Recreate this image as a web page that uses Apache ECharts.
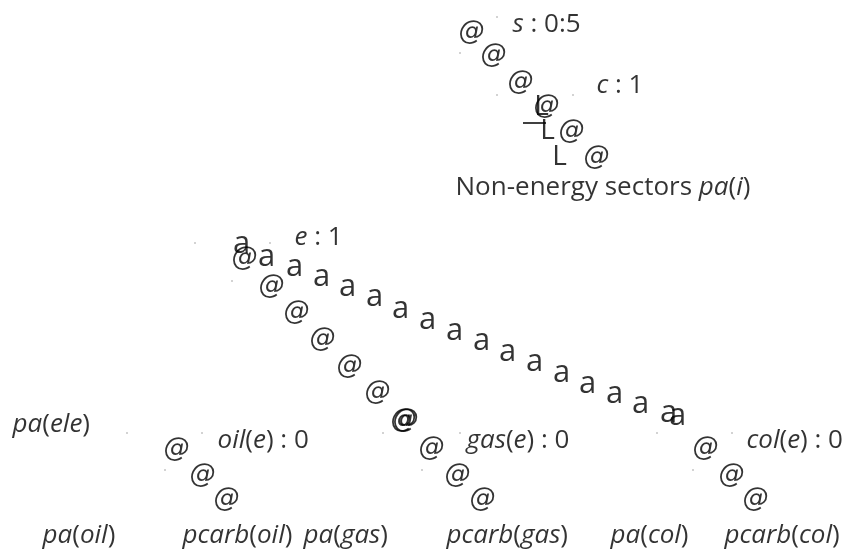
<!DOCTYPE html>
<html>
<head>
<meta charset="utf-8">
<script src="https://cdn.jsdelivr.net/npm/echarts@6/dist/echarts.min.js"></script>
<style>
  html, body { margin: 0; padding: 0; background: #fff; }
  #main { width: 853px; height: 557px; }
</style>
</head>
<body>
<div id="main"></div>
<script>
// glyph anchors, picture units (x right, y down)
var atMarks = [
  [472, 33], [494, 56], [521, 83], [547, 107], [572, 132], [597, 158],
  [245, 259], [272, 287], [297, 313], [323, 340], [350, 367], [378, 393],
  [404, 421], [406, 421], [432, 449], [458, 476], [483, 500],
  [177, 450], [203, 476], [227, 500],
  [706, 449], [732, 476], [756, 500]
];
var aMarks = [
  [242, 245], [267, 258], [295, 268], [322, 278], [348, 288], [375, 298],
  [401, 310], [428, 321], [455, 332], [482, 342], [508, 353], [535, 363],
  [562, 374], [588, 385], [615, 395], [641, 405], [669, 414], [678, 417]
];
var lMarks = [[542, 108], [548, 132], [560, 158]];
var ruleLine = [[523, 123], [546, 123]];
var dots = [
  [497, 17], [460, 53], [497, 95], [573, 95], [195, 243], [270, 243],
  [232, 281], [127, 433], [202, 433], [165, 470], [383, 433], [460, 433],
  [422, 470], [657, 433], [732, 433], [693, 470]
];
// [left x, y, text]
var texts = [
  [513, 25, '{m|s}{r| : 0:5}'],
  [597, 86, '{m|c}{r| : 1}'],
  [456, 188, '{r|Non-energy sectors }{m|pa}{r|(}{m|i}{r|)}'],
  [295, 238, '{m|e}{r| : 1}'],
  [13, 425, '{m|pa}{r|(}{m|ele}{r|)}'],
  [218, 441, '{m|oil}{r|(}{m|e}{r|) : 0}'],
  [467, 441, '{m|gas}{r|(}{m|e}{r|) : 0}'],
  [747, 441, '{m|col}{r|(}{m|e}{r|) : 0}'],
  [43, 536, '{m|pa}{r|(}{m|oil}{r|)}'],
  [183, 536, '{m|pcarb}{r|(}{m|oil}{r|)}'],
  [304, 536, '{m|pa}{r|(}{m|gas}{r|)}'],
  [447, 536, '{m|pcarb}{r|(}{m|gas}{r|)}'],
  [611, 536, '{m|pa}{r|(}{m|col}{r|)}'],
  [725, 536, '{m|pcarb}{r|(}{m|col}{r|)}']
];

var chart = echarts.init(document.getElementById('main'), null, { renderer: 'canvas' });
var font = '"Open Sans", "DejaVu Sans", sans-serif';

function glyphSeries(data, ch, size, style, family) {
  return {
    type: 'scatter',
    data: data,
    symbolSize: 1,
    itemStyle: { color: 'rgba(0,0,0,0)' },
    silent: true,
    label: {
      show: true,
      position: [0, 0],
      align: 'center',
      verticalAlign: 'middle',
      formatter: function () { return '{g|' + ch + '}'; },
      rich: {
        g: {
          fontFamily: family || font,
          fontSize: size,
          fontStyle: style,
          color: '#000'
        }
      }
    }
  };
}

var option = {
  backgroundColor: '#fff',
  animation: false,
  grid: { left: 0, right: 0, top: 0, bottom: 0 },
  xAxis: { type: 'value', min: 0, max: 853, show: false },
  yAxis: { type: 'value', min: 0, max: 557, inverse: true, show: false },
  series: [
    glyphSeries(atMarks, '@', 26, 'italic', '"DejaVu Sans", sans-serif'),
    glyphSeries(aMarks, 'a', 31, 'normal'),
    glyphSeries(lMarks, 'L', 28, 'normal'),
    {
      type: 'line',
      data: ruleLine,
      symbol: 'none',
      silent: true,
      lineStyle: { color: '#000', width: 1.5 }
    },
    {
      type: 'scatter',
      data: dots,
      symbolSize: 1.5,
      silent: true,
      itemStyle: { color: '#777' }
    },
    {
      type: 'scatter',
      data: texts,
      symbolSize: 1,
      silent: true,
      itemStyle: { color: 'rgba(0,0,0,0)' },
      label: {
        show: true,
        position: [0, 0],
        align: 'left',
        verticalAlign: 'middle',
        formatter: function (p) { return p.data[2]; },
        rich: {
          m: { fontFamily: font, fontSize: 26, fontStyle: 'italic', color: '#000' },
          r: { fontFamily: font, fontSize: 26, color: '#000' }
        }
      }
    }
  ]
};
chart.setOption(option);
</script>
</body>
</html>
